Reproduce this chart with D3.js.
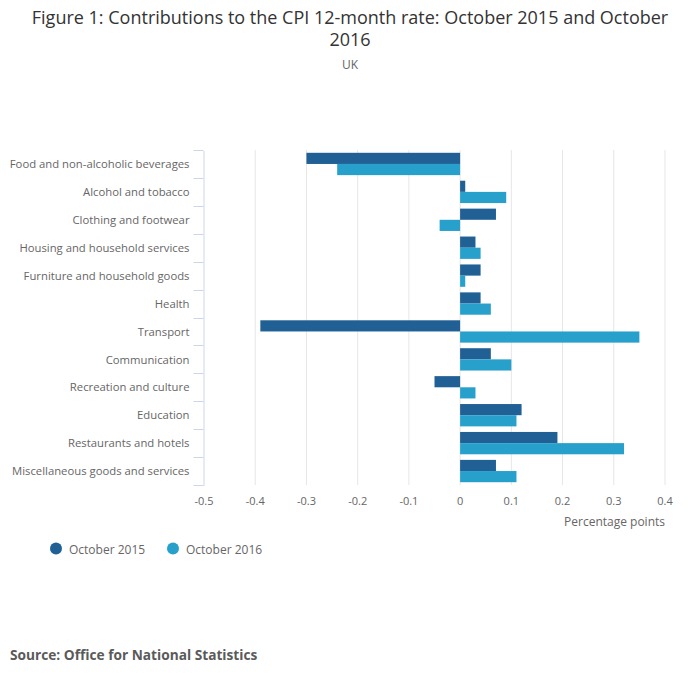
<!DOCTYPE html>
<html>
<head>
<meta charset="utf-8">
<script src="https://cdn.jsdelivr.net/npm/d3@7"></script>
<style>
	body { margin: 0; background: #fff; }
	svg { font-family: "Open Sans", sans-serif; }
</style>
</head>
<body>
<svg id="chart" width="700" height="682"></svg>
<script>
var categories = ["Food and non-alcoholic beverages", "Alcohol and tobacco", "Clothing and footwear",
	"Housing and household services", "Furniture and household goods", "Health", "Transport",
	"Communication", "Recreation and culture", "Education", "Restaurants and hotels",
	"Miscellaneous goods and services"];
var oct2015 = [-0.30, 0.01, 0.07, 0.03, 0.04, 0.04, -0.39, 0.06, -0.05, 0.12, 0.19, 0.07];
var oct2016 = [-0.24, 0.09, -0.04, 0.04, 0.01, 0.06, 0.35, 0.10, 0.03, 0.11, 0.32, 0.11];
var seriesNames = ["October 2015", "October 2016"];
var xTicks = [-0.5, -0.4, -0.3, -0.2, -0.1, 0, 0.1, 0.2, 0.3, 0.4];

var colors = ["#206095", "#27a0cc"];
var svg = d3.select("#chart");

var x = d3.scaleLinear().domain([-0.5, 0.4]).range([204, 665]);
var y = d3.scaleBand().domain(categories).range([150, 485]).paddingInner(0.2).paddingOuter(0.1);
var full = d3.scaleBand().domain(categories).range([150, 485]);
var sub = d3.scaleBand().domain([0, 1]).range([0, y.bandwidth()]);

// title
svg.append("text").attr("x", 350).attr("y", 24).attr("text-anchor", "middle")
	.attr("font-size", 18).attr("fill", "#333")
	.text("Figure 1: Contributions to the CPI 12-month rate: October 2015 and October");
svg.append("text").attr("x", 350).attr("y", 46).attr("text-anchor", "middle")
	.attr("font-size", 18).attr("fill", "#333").text("2016");
svg.append("text").attr("x", 350).attr("y", 69).attr("text-anchor", "middle")
	.attr("font-size", 12).attr("fill", "#666").text("UK");

// grid
svg.append("g").selectAll("line").data(xTicks.slice(1)).enter().append("line")
	.attr("x1", function(d){ return x(d); }).attr("x2", function(d){ return x(d); })
	.attr("y1", 150).attr("y2", 485)
	.attr("stroke", "#e6e6e6").attr("stroke-width", 1);

// bars
var data = categories.map(function(c, i){ return {cat: c, vals: [oct2015[i], oct2016[i]]}; });
var groups = svg.append("g").selectAll("g").data(data).enter().append("g")
	.attr("transform", function(d){ return "translate(0," + y(d.cat) + ")"; });
groups.selectAll("rect").data(function(d){ return d.vals; }).enter().append("rect")
	.attr("x", function(d){ return x(Math.min(0, d)); })
	.attr("width", function(d){ return Math.abs(x(d) - x(0)); })
	.attr("y", function(d, i){ return sub(i); })
	.attr("height", sub.bandwidth())
	.attr("fill", function(d, i){ return colors[i]; });

// y axis
var yAxis = d3.axisLeft(full).tickSize(0).tickPadding(14);
var ya = svg.append("g").attr("transform", "translate(203.5,0.5)").call(yAxis);
ya.select(".domain").attr("stroke", "#ccd6eb");
ya.selectAll("text").attr("font-size", 11.3).attr("fill", "#666").attr("font-family", "Open Sans");
var edges = categories.map(function(c){ return full(c); }).concat([485]);
ya.selectAll("line.edge").data(edges).enter().append("line").attr("class", "edge")
	.attr("x1", -10).attr("x2", 0)
	.attr("y1", function(d){ return Math.round(d); }).attr("y2", function(d){ return Math.round(d); })
	.attr("stroke", "#ccd6eb");

// x axis labels
svg.append("g").selectAll("text").data(xTicks).enter().append("text")
	.attr("x", function(d){ return x(d); }).attr("y", 505)
	.attr("text-anchor", "middle").attr("font-size", 11).attr("fill", "#666")
	.text(function(d){ return String(d); });
svg.append("text").attr("x", 665).attr("y", 526).attr("text-anchor", "end")
	.attr("font-size", 12).attr("fill", "#666").text("Percentage points");

// legend
var legX = [56, 173];
var leg = svg.append("g").selectAll("g").data(seriesNames).enter().append("g")
	.attr("transform", function(d, i){ return "translate(" + legX[i] + ",548.5)"; });
leg.append("circle").attr("r", 6).attr("fill", function(d, i){ return colors[i]; });
leg.append("text").attr("x", 13).attr("y", 5).attr("font-size", 12).attr("fill", "#666")
	.text(function(d){ return d; });

// source
svg.append("text").attr("x", 10).attr("y", 660).attr("font-size", 13.7).attr("font-weight", "bold")
	.attr("fill", "#5a5a5a").text("Source: Office for National Statistics");
</script>
</body>
</html>
